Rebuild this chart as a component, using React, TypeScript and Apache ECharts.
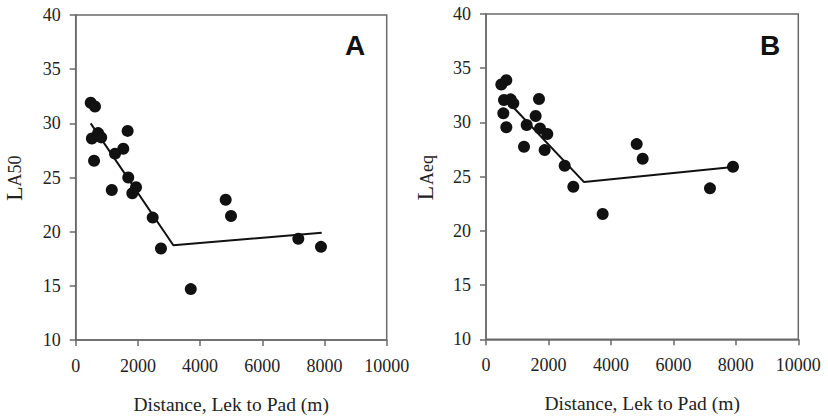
import React, { useEffect, useRef } from "react";
import * as echarts from "echarts";

// Panel A: L_A50 vs distance
const distA = [482, 620, 520, 720, 820, 590, 1670, 1530, 1265, 1690, 1160, 1940, 1820, 2476, 2742, 3700, 4823, 4994, 7158, 7887];
const la50 = [31.9, 31.55, 28.6, 29.1, 28.7, 26.55, 29.3, 27.65, 27.2, 25.0, 23.85, 24.1, 23.55, 21.3, 18.45, 14.7, 22.95, 21.45, 19.35, 18.6];
const fitDistA = [482, 3140, 7910];
const fitA = [30.0, 18.75, 19.9];

// Panel B: L_Aeq vs distance
const distB = [491, 651, 576, 790, 875, 555, 651, 1697, 1590, 1302, 1729, 1963, 1217, 1878, 2519, 2796, 3736, 4825, 5017, 7172, 7909];
const laeq = [33.5, 33.9, 32.07, 32.13, 31.76, 30.84, 29.55, 32.16, 30.59, 29.76, 29.45, 28.93, 27.76, 27.45, 26.01, 24.07, 21.55, 28.0, 26.65, 23.92, 25.91];
const fitDistB = [790, 3140, 7910];
const fitB = [31.65, 24.5, 25.9];

const xMin = 0, xMax = 10000, xStep = 2000;
const yMin = 10, yMax = 40, yStep = 5;

const xTitle = "Distance, Lek to Pad (m)";
const panelLabels = ["A", "B"];
const yMain = "L";
const ySubs = ["A50", "Aeq"];

const SERIF = "Liberation Serif";
const SANS = "Liberation Sans";
const AXIS_COLOR = "#6a6a6a";
const TEXT_COLOR = "#222";
const DOT_COLOR = "#111";

export default function App() {
  const ref = useRef<HTMLDivElement>(null);
  useEffect(() => {
    document.body.style.margin = "0";
    const chart = echarts.init(ref.current!, null, { renderer: "svg" });
    const grids = [
      { left: 75.7, top: 15, width: 311, height: 325 },
      { left: 486, top: 14, width: 312.3, height: 325.3 },
    ];
    const xAxis = grids.map((_, i) => ({
      type: "value",
      gridIndex: i,
      min: xMin,
      max: xMax,
      interval: xStep,
      name: xTitle,
      nameLocation: "middle",
      nameGap: 54,
      nameTextStyle: { fontFamily: SERIF, fontSize: 19.5, color: TEXT_COLOR },
      axisLine: { show: true, lineStyle: { color: AXIS_COLOR, width: 1.5 } },
      axisTick: { show: true, inside: false, length: 6, lineStyle: { color: AXIS_COLOR, width: 1.5 } },
      axisLabel: { fontFamily: SERIF, fontSize: 18, color: TEXT_COLOR, margin: 17, formatter: (v: number) => String(v) },
      splitLine: { show: false },
    }));
    const yAxis = grids.map((_, i) => ({
      type: "value",
      gridIndex: i,
      min: yMin,
      max: yMax,
      interval: yStep,
      axisLine: { show: true, lineStyle: { color: AXIS_COLOR, width: 1.5 } },
      axisTick: { show: true, inside: false, length: 6, lineStyle: { color: AXIS_COLOR, width: 1.5 } },
      axisLabel: { fontFamily: SERIF, fontSize: 18, color: TEXT_COLOR, margin: 15, formatter: (v: number) => String(v) },
      splitLine: { show: false },
    }));
    const scatter = (xs: number[], ys: number[], idx: number) => ({
      type: "scatter",
      xAxisIndex: idx,
      yAxisIndex: idx,
      symbol: "circle",
      symbolSize: 12,
      itemStyle: { color: DOT_COLOR, opacity: 1 },
      data: xs.map((x, k) => [x, ys[k]]),
      z: 3,
    });
    const fit = (xs: number[], ys: number[], idx: number) => ({
      type: "line",
      xAxisIndex: idx,
      yAxisIndex: idx,
      symbol: "none",
      lineStyle: { color: "#111", width: 2 },
      data: xs.map((x, k) => [x, ys[k]]),
      z: 2,
    });
    const rot = Math.PI / 2;
    chart.setOption({
      animation: false,
      backgroundColor: "#fff",
      textStyle: { fontFamily: SERIF },
      grid: grids.map((g) => ({ ...g, show: true, borderColor: AXIS_COLOR, borderWidth: 1.5, backgroundColor: "transparent" })),
      xAxis,
      yAxis,
      series: [
        fit(fitDistA, fitA, 0),
        scatter(distA, la50, 0),
        fit(fitDistB, fitB, 1),
        scatter(distB, laeq, 1),
      ],
      graphic: [
        { type: "text", x: 13.8, y: 201, rotation: rot, style: { text: yMain, fontFamily: SERIF, fontSize: 24, fill: TEXT_COLOR, textAlign: "left", textVerticalAlign: "middle" } },
        { type: "text", x: 15, y: 186.5, rotation: rot, style: { text: ySubs[0], fontFamily: SERIF, fontSize: 18, fill: TEXT_COLOR, textAlign: "left", textVerticalAlign: "middle" } },
        { type: "text", x: 425, y: 200.5, rotation: rot, style: { text: yMain, fontFamily: SERIF, fontSize: 24, fill: TEXT_COLOR, textAlign: "left", textVerticalAlign: "middle" } },
        { type: "text", x: 426.5, y: 185, rotation: rot, style: { text: ySubs[1], fontFamily: SERIF, fontSize: 18, fill: TEXT_COLOR, textAlign: "left", textVerticalAlign: "middle" } },
        { type: "text", x: 355, y: 45, style: { text: panelLabels[0], fontFamily: SANS, fontWeight: "bold", fontSize: 28, fill: "#111", textAlign: "center", textVerticalAlign: "middle" } },
        { type: "text", x: 770, y: 45, style: { text: panelLabels[1], fontFamily: SANS, fontWeight: "bold", fontSize: 28, fill: "#111", textAlign: "center", textVerticalAlign: "middle" } },
      ],
    });
    return () => chart.dispose();
  }, []);
  return (
    <div style={{ position: "absolute", left: 0, top: 0, width: 828, height: 419, background: "#fff" }}>
      <div ref={ref} style={{ width: 828, height: 419 }} />
    </div>
  );
}
